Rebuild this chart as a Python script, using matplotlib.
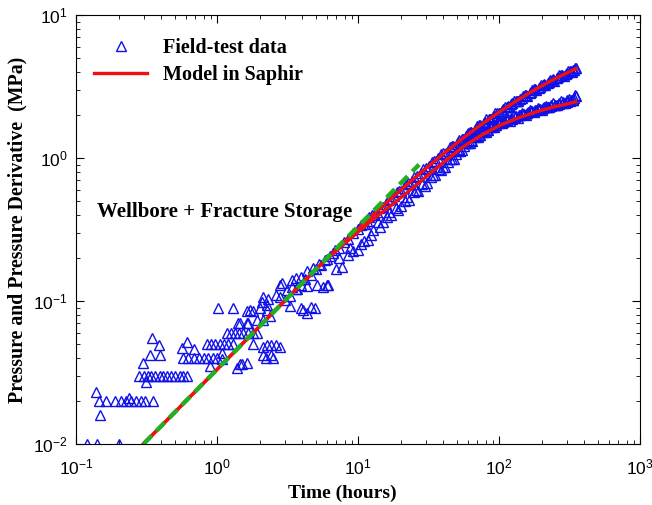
import numpy as np
import matplotlib
matplotlib.use("Agg")
import matplotlib.pyplot as plt
from matplotlib.lines import Line2D

plt.rcParams['mathtext.fontset'] = 'custom'
plt.rcParams['mathtext.rm'] = 'Liberation Sans'
plt.rcParams['mathtext.it'] = 'Liberation Sans'
plt.rcParams['mathtext.bf'] = 'Liberation Sans'
plt.rcParams['font.family'] = 'Liberation Sans'

# scattered early-time field data (t in hours, p in MPa)
early_t = [0.12, 0.14, 0.2, 0.148, 0.137,
           0.146, 0.163, 0.187, 0.209, 0.226, 0.245, 0.266, 0.289, 0.305, 0.35,
           0.236, 0.31,
           0.28, 0.30, 0.32, 0.34, 0.36, 0.39, 0.41, 0.44, 0.47, 0.50, 0.54, 0.57, 0.61,
           0.297, 0.335, 0.39, 0.345, 0.385, 0.56, 0.61, 0.68,
           0.57, 0.62, 0.68, 0.74, 0.80, 0.86, 0.93, 1.0,
           0.89, 1.08, 1.08,
           0.84, 0.90, 0.97, 1.04, 1.12, 1.20, 1.29,
           1.17, 1.25, 1.33, 1.42, 1.53, 1.65, 1.78, 1.90,
           1.40, 1.45, 1.62, 1.66,
           1.01, 1.30, 1.71, 2.07, 2.25,
           1.38, 1.45, 1.5, 1.62,
           1.8, 2.1, 2.25, 2.4, 2.6, 2.8,
           2.1, 2.4, 2.2, 2.5,
           1.62, 1.8, 2.0, 2.25, 1.9, 2.12, 2.37,
           2.8, 3.4, 4.3, 5.1, 6.0, 3.3, 3.9, 4.3,
           2.12, 2.3, 2.6, 2.79, 3.1, 3.4, 3.7, 2.9, 3.6, 3.9, 4.3, 4.8, 5.3, 6.0, 6.6,
           4.07, 4.6, 4.96, 5.6, 6.1]
early_p = [0.01, 0.01, 0.01, 0.016, 0.023,
           0.02, 0.02, 0.02, 0.02, 0.02, 0.02, 0.02, 0.02, 0.02, 0.02,
           0.021, 0.027,
           0.03, 0.03, 0.03, 0.03, 0.03, 0.03, 0.03, 0.03, 0.03, 0.03, 0.03, 0.03, 0.03,
           0.037, 0.042, 0.042, 0.055, 0.049, 0.047, 0.052, 0.046,
           0.04, 0.04, 0.04, 0.04, 0.04, 0.04, 0.04, 0.04,
           0.035, 0.043, 0.039,
           0.05, 0.05, 0.05, 0.05, 0.05, 0.05, 0.05,
           0.06, 0.06, 0.06, 0.06, 0.06, 0.06, 0.06, 0.06,
           0.07, 0.07, 0.07, 0.07,
           0.09, 0.09, 0.087, 0.098, 0.087,
           0.034, 0.036, 0.036, 0.037,
           0.05, 0.048, 0.049, 0.049, 0.049, 0.048,
           0.042, 0.042, 0.04, 0.04,
           0.085, 0.085, 0.089, 0.094, 0.074, 0.074, 0.078,
           0.13, 0.14, 0.127, 0.13, 0.13, 0.092, 0.09, 0.083,
           0.107, 0.104, 0.11, 0.107, 0.12, 0.126, 0.122, 0.133, 0.144, 0.148, 0.161, 0.169, 0.18, 0.197, 0.215,
           0.087, 0.091, 0.089, 0.126, 0.13]

# pressure field data
pres_t = [3.0, 3.3, 3.6, 3.9, 4.2, 4.6, 5.0, 5.4, 5.8, 6.3, 6.8, 7.3, 7.9, 8.5, 9.2,
          10, 10.8, 11.6, 12.5, 13.5, 14.5, 15.6, 16.8, 18, 19.4, 21, 22.5, 24, 26, 28,
          30, 32, 34.5, 37, 40, 43, 46, 50, 54, 58, 62, 67, 72, 78, 84, 90, 97,
          105, 113, 122, 131, 141, 152, 164, 177, 190, 205, 220, 237, 255, 275, 296,
          318, 340, 350,
          10.4, 11.2, 12.0, 13.0, 14.0, 15.0, 16.2, 17.4, 18.7, 20.2, 21.7, 23.2, 25,
          27, 29, 31, 33.2, 35.7, 38.5, 41.5, 44.5, 48, 52, 56, 60, 64.5, 69.5, 75,
          81, 87, 93.5, 101, 109, 117.5, 126.5, 136, 146.5, 158, 170.5, 183.5, 197.5,
          212.5, 228.5, 246, 265, 285.5, 307, 329, 345,
          42, 47, 51, 55, 59, 63.5, 68, 73.5, 79.5, 85.5, 92, 99, 107, 115, 124,
          133.5, 144, 155, 167, 180, 194, 209, 225, 242, 260, 280, 301, 323, 335]
pres_p = [0.101, 0.109, 0.121, 0.129, 0.142, 0.151, 0.168, 0.178, 0.194, 0.205, 0.226,
          0.236, 0.26, 0.272, 0.299, 0.317, 0.347, 0.362, 0.397, 0.418, 0.455, 0.475,
          0.519, 0.54, 0.588, 0.616, 0.668, 0.692, 0.755, 0.789, 0.852, 0.882, 0.955,
          0.995, 1.078, 1.121, 1.205, 1.264, 1.365, 1.418, 1.515, 1.578, 1.69, 1.762,
          1.882, 1.942, 2.072, 2.15, 2.282, 2.375, 2.51, 2.6, 2.755, 2.85, 3.02, 3.1,
          3.27, 3.35, 3.53, 3.62, 3.79, 3.88, 4.06, 4.15, 4.3,
          0.340, 0.346, 0.388, 0.397, 0.447, 0.453, 0.509, 0.516, 0.577, 0.587, 0.657,
          0.663, 0.741, 0.753, 0.84, 0.844, 0.94, 0.95, 1.061, 1.073, 1.191, 1.203,
          1.346, 1.355, 1.502, 1.506, 1.673, 1.682, 1.866, 1.862, 2.055, 2.057, 2.27,
          2.268, 2.5, 2.489, 2.74, 2.73, 3.005, 2.984, 3.265, 3.227, 3.523, 3.486,
          3.798, 3.739, 4.069, 3.998, 4.3,
          1.09, 1.22, 1.30, 1.37, 1.45, 1.52, 1.61, 1.70, 1.80, 1.89, 1.98, 2.08,
          2.19, 2.30, 2.41, 2.52, 2.64, 2.77, 2.89, 3.03, 3.16, 3.28, 3.41, 3.55,
          3.67, 3.80, 3.93, 4.07, 4.13]

# pressure derivative field data
deriv_t = [7.0, 7.7, 8.4, 9.2, 10, 10.9, 11.8, 12.8, 13.8, 14.9, 16, 17.2, 18.5, 20,
           21.5, 23, 24.7, 26.5, 28.5, 30.5, 32.7, 35, 37.5, 40, 43, 46, 49, 52.5, 56,
           60, 64, 68.5, 73, 78, 83, 89, 95, 101, 108, 115, 123, 131, 140, 149, 159,
           170, 181, 193, 206, 220, 234, 250, 266, 284, 302, 322, 340, 350,
           7.35, 8.8, 10.45, 12.3, 14.35, 16.6, 19.2, 22.2, 25.6, 29.5, 33.8, 38.7,
           41.5, 44.5, 47.5, 50.7, 54.2, 58, 62, 66.2, 70.7, 75.5, 80.5, 86, 92, 98,
           104.5, 111.5, 119, 127, 135.5, 144.5, 154, 164.5, 175.5, 187, 199.5, 213,
           227, 242, 258, 275, 293, 312, 331, 345,
           51.5, 57, 63, 67.5, 72, 77, 82, 88, 94, 100, 107, 114, 122, 130, 139, 148,
           158, 169, 180, 192, 205, 219, 233, 249, 265, 283, 301, 320, 336]
deriv_p = [0.167, 0.173, 0.21, 0.222, 0.226, 0.262, 0.269, 0.312, 0.356, 0.356, 0.39,
           0.399, 0.446, 0.459, 0.504, 0.509, 0.576, 0.59, 0.656, 0.67, 0.734, 0.759,
           0.837, 0.864, 0.945, 0.986, 1.067, 1.114, 1.208, 1.285, 1.314, 1.427, 1.456,
           1.556, 1.577, 1.683, 1.71, 1.796, 1.81, 1.872, 1.887, 1.973, 2.001, 2.026,
           2.111, 2.118, 2.184, 2.202, 2.287, 2.285, 2.345, 2.36, 2.439, 2.449, 2.533,
           2.548, 2.632, 2.72,
           0.20, 0.235, 0.25, 0.29, 0.33, 0.42, 0.43, 0.53, 0.60, 0.64, 0.76, 0.82,
           0.861, 0.981, 0.99, 1.118, 1.131, 1.271, 1.274, 1.424, 1.414, 1.557, 1.522,
           1.685, 1.648, 1.804, 1.751, 1.885, 1.826, 1.986, 1.921, 2.063, 2.008, 2.155,
           2.099, 2.246, 2.18, 2.33, 2.259, 2.409, 2.353, 2.503, 2.443, 2.601, 2.541,
           2.764,
           1.16, 1.27, 1.34, 1.41, 1.46, 1.53, 1.58, 1.64, 1.70, 1.75, 1.80, 1.85,
           1.90, 1.95, 1.99, 2.04, 2.08, 2.13, 2.17, 2.21, 2.25, 2.29, 2.33, 2.36,
           2.40, 2.43, 2.47, 2.51, 2.56]

# Saphir model curves
model_t = [0.3, 1.0, 3.16, 5.62, 10, 13.3, 17.8, 23.7, 31.6, 42.2, 56.2, 75, 100,
           133, 178, 237, 316, 350]
model_p = [0.01, 0.0333, 0.1054, 0.186, 0.32, 0.417, 0.54, 0.692, 0.881, 1.114,
           1.396, 1.726, 2.099, 2.523, 3.006, 3.508, 4.027, 4.227]
model_dp = [0.01, 0.0333, 0.1054, 0.186, 0.305, 0.385, 0.481, 0.605, 0.767, 0.97,
            1.211, 1.452, 1.687, 1.892, 2.089, 2.265, 2.415, 2.477]

# unit-slope storage line
storage_t = [0.3, 27]
storage_p = [0.01, 0.9]

fig = plt.figure(figsize=(6.52, 5.05), dpi=100)
ax = fig.add_axes([0.117, 0.121, 0.865, 0.849])

mk = dict(marker='^', linestyle='none', markersize=7.3, markerfacecolor='none',
          markeredgecolor='#1010e8', markeredgewidth=1.0)
ax.plot(early_t, early_p, **mk, zorder=2)
ax.plot(pres_t, pres_p, **mk, zorder=2)
ax.plot(deriv_t, deriv_p, **mk, zorder=2)

ax.plot(model_t, model_p, color='#f01010', lw=2.4, zorder=3)
ax.plot(model_t, model_dp, color='#f01010', lw=2.4, zorder=3)
ax.plot(storage_t, storage_p, color='#22b022', lw=3.2, dashes=(2.6, 1.5), zorder=4)

ax.set_xscale('log')
ax.set_yscale('log')
ax.set_xlim(0.1, 1000)
ax.set_ylim(0.01, 10)
ax.tick_params(which='both', direction='in', top=True, right=True, labelsize=12.5)
ax.tick_params(axis='x', which='major', pad=10)
ax.tick_params(axis='y', which='major', pad=6)
ax.tick_params(which='major', length=6)
ax.tick_params(which='minor', length=3)

bold = dict(family='Liberation Serif', weight='bold')
ax.set_xlabel('Time (hours)', fontsize=14, labelpad=3, **bold)
ax.xaxis.set_label_coords(0.472, -0.095)
ax.set_ylabel('Pressure and Pressure Derivative  (MPa)', fontsize=14.3, **bold)

ax.text(0.14, 0.42, 'Wellbore + Fracture Storage', fontsize=15, va='center', **bold)

handles = [Line2D([], [], **mk),
           Line2D([], [], color='#f01010', lw=2.4)]
ax.legend(handles, ['Field-test data', 'Model in Saphir'], loc='upper left',
          bbox_to_anchor=(0.0, 0.99), frameon=False, handlelength=2.6,
          handletextpad=0.8, labelspacing=0.35,
          prop=dict(family='Liberation Serif', weight='bold', size=14.5))

fig.savefig('out.png', dpi=100)
